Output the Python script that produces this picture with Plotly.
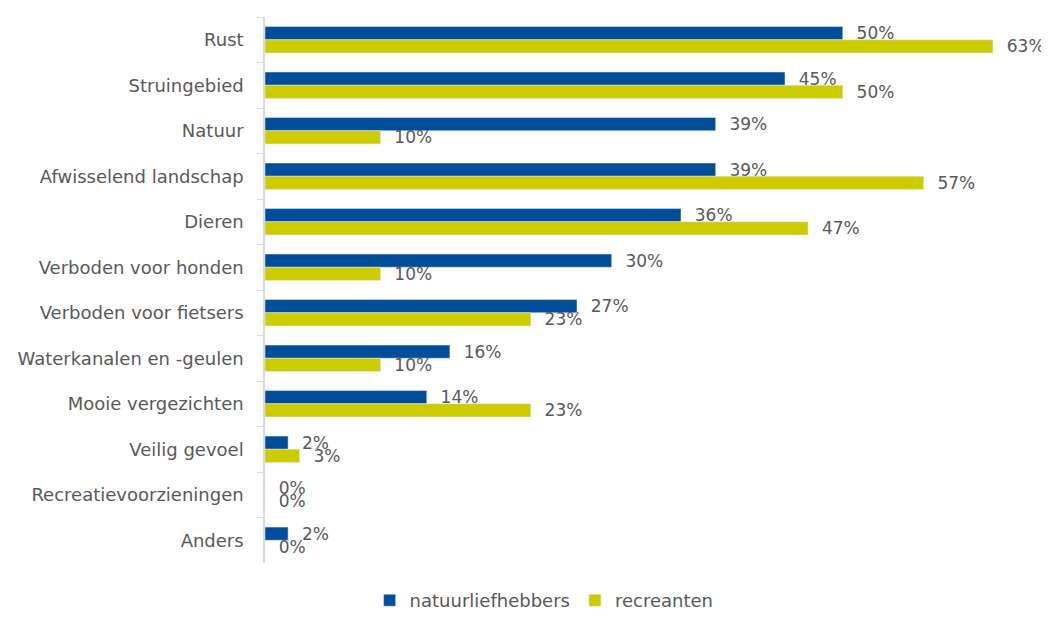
import plotly.graph_objects as go

categories = ["Rust", "Struingebied", "Natuur", "Afwisselend landschap", "Dieren",
              "Verboden voor honden", "Verboden voor fietsers", "Waterkanalen en -geulen",
              "Mooie vergezichten", "Veilig gevoel", "Recreatievoorzieningen", "Anders"]
natuurliefhebbers = [50, 45, 39, 39, 36, 30, 27, 16, 14, 2, 0, 2]
recreanten = [63, 50, 10, 57, 47, 10, 23, 10, 23, 3, 0, 0]

FONT = "DejaVu Sans"
TXT = "#595959"
FS = 17
FS_AX = 18

fig = go.Figure()
fig.add_trace(go.Bar(
    y=categories, x=natuurliefhebbers, name="natuurliefhebbers", orientation="h",
    marker=dict(color="#004E9A"), texttemplate="  %{x}%", textposition="outside",
    constraintext="none", cliponaxis=False,
    textfont=dict(family=FONT, size=FS, color=TXT)))
fig.add_trace(go.Bar(
    y=categories, x=recreanten, name="recreanten", orientation="h",
    marker=dict(color="#CCCC00"), texttemplate="  %{x}%", textposition="outside",
    constraintext="none", cliponaxis=False,
    textfont=dict(family=FONT, size=FS, color=TXT)))

# page body has an 8px margin: figure is 1041x611 placed at (8, 8)
fig.update_layout(
    width=1041, height=611,
    margin=dict(l=257, r=56, t=9, b=56, autoexpand=False),
    barmode="group", bargap=0.42, bargroupgap=0,
    plot_bgcolor="white", paper_bgcolor="white",
    font=dict(family=FONT, size=FS_AX, color=TXT),
    xaxis=dict(range=[0, 63], visible=False, fixedrange=True),
    yaxis=dict(autorange="reversed", showline=True, linecolor="#d9d9d9", linewidth=1.5,
               ticks="outside", tickson="boundaries", ticklen=6, tickcolor="#d9d9d9",
               ticklabelstandoff=16, showgrid=False,
               tickfont=dict(family=FONT, size=FS_AX, color=TXT)),
    legend=dict(orientation="h", xref="container", yref="container",
                x=0.515, xanchor="center", y=0.0, yanchor="bottom",
                font=dict(family=FONT, size=FS_AX, color=TXT), itemwidth=30,
                traceorder="normal"),
    showlegend=True,
)
fig.write_html("out.html")
